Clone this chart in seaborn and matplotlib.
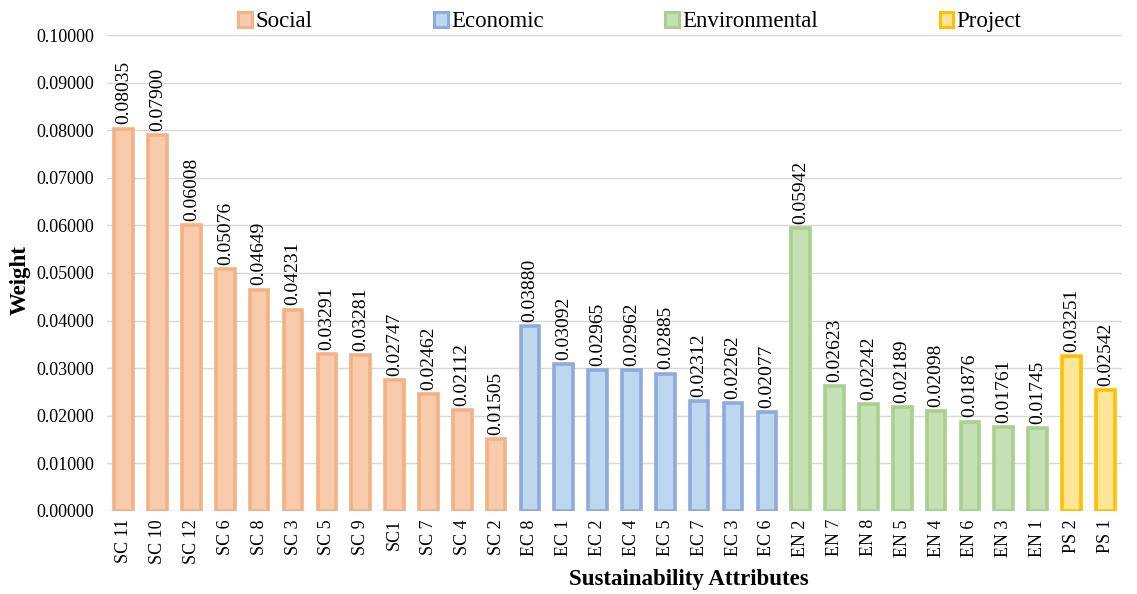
import matplotlib
matplotlib.use("Agg")
import matplotlib.pyplot as plt
import seaborn as sns
import pandas as pd
from matplotlib.patches import Patch

# Attribute weights grouped by sustainability dimension
social_labels = ["SC 11", "SC 10", "SC 12", "SC 6", "SC 8", "SC 3", "SC 5", "SC 9", "SC1", "SC 7", "SC 4", "SC 2"]
social_weights = [0.08035, 0.07900, 0.06008, 0.05076, 0.04649, 0.04231, 0.03291, 0.03281, 0.02747, 0.02462, 0.02112, 0.01505]

economic_labels = ["EC 8", "EC 1", "EC 2", "EC 4", "EC 5", "EC 7", "EC 3", "EC 6"]
economic_weights = [0.03880, 0.03092, 0.02965, 0.02962, 0.02885, 0.02312, 0.02262, 0.02077]

environmental_labels = ["EN 2", "EN 7", "EN 8", "EN 5", "EN 4", "EN 6", "EN 3", "EN 1"]
environmental_weights = [0.05942, 0.02623, 0.02242, 0.02189, 0.02098, 0.01876, 0.01761, 0.01745]

project_labels = ["PS 2", "PS 1"]
project_weights = [0.03251, 0.02542]

groups = ["Social", "Economic", "Environmental", "Project"]
fill_colors = {"Social": "#F8CBAD", "Economic": "#BDD7EE", "Environmental": "#C5E0B4", "Project": "#FFE699"}
edge_colors = {"Social": "#F4B183", "Economic": "#8FAADC", "Environmental": "#A9D18E", "Project": "#FFC000"}

df = pd.DataFrame({
    "attribute": social_labels + economic_labels + environmental_labels + project_labels,
    "weight": social_weights + economic_weights + environmental_weights + project_weights,
    "group": (["Social"] * len(social_labels) + ["Economic"] * len(economic_labels)
              + ["Environmental"] * len(environmental_labels) + ["Project"] * len(project_labels)),
})

sns.set_theme(style="white")
plt.rcParams["font.family"] = ["Liberation Serif", "DejaVu Serif"]
plt.rcParams["text.color"] = "#000000"
plt.rcParams["axes.labelcolor"] = "#000000"

fig = plt.figure(figsize=(11.37, 5.94), dpi=100)
ax = fig.add_axes([0.094, 0.140, 0.893, 0.801])

sns.barplot(data=df, x="attribute", y="weight", hue="group", hue_order=groups,
            palette=fill_colors, saturation=1, dodge=False, width=0.55, legend=False,
            ax=ax, zorder=3)

for container, g in zip(ax.containers, groups):
    for bar in container:
        bar.set_edgecolor(edge_colors[g])
        bar.set_linewidth(2.6)
    ax.bar_label(container, fmt="%.5f", rotation=90, padding=3, fontsize=14, color="#000000")

ax.set_ylim(0, 0.1)
ax.set_xlim(-0.5, len(df) - 0.5)
ax.set_yticks([i * 0.01 for i in range(11)])
ax.yaxis.set_major_formatter(matplotlib.ticker.FormatStrFormatter("%.5f"))
ax.grid(axis="y", color="#D9D9D9", linewidth=1, zorder=0)
ax.grid(axis="x", visible=False)
for s in ax.spines.values():
    s.set_visible(False)
ax.tick_params(axis="both", length=0, labelsize=13, colors="#000000")
ax.tick_params(axis="y", pad=9)
ax.tick_params(axis="x", pad=6)
plt.setp(ax.get_xticklabels(), rotation=90)

ax.set_ylabel("Weight", fontsize=16.5, fontweight="bold", color="#000000")
ax.yaxis.set_label_coords(-0.0857, 0.485)
ax.yaxis.label.set_va("center")
ax.set_xlabel("Sustainability Attributes", fontsize=16.5, fontweight="bold", color="#000000")
ax.xaxis.set_label_coords(0.573, -0.145)
ax.xaxis.label.set_va("center")

handles = [Patch(facecolor=fill_colors[g], edgecolor=edge_colors[g], linewidth=2.2, label=g) for g in groups]
leg = fig.legend(handles=handles, loc="center", bbox_to_anchor=(0.554, 0.963), ncol=4, frameon=False,
                 fontsize=16.5, handlelength=0.6, handleheight=0.6, handletextpad=0.15, columnspacing=5.3)
for t in leg.get_texts():
    t.set_color("#000000")

fig.savefig("out.png", dpi=100)
